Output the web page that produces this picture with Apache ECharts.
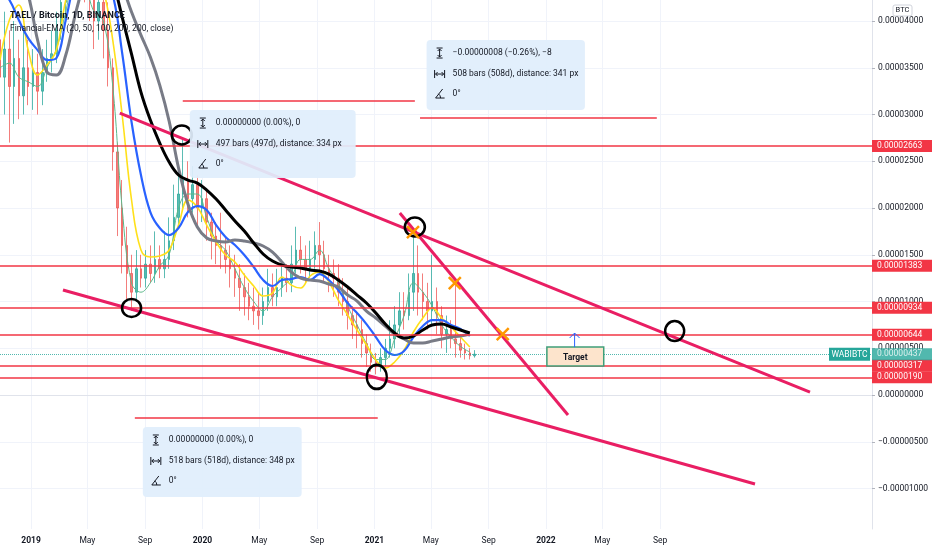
<!DOCTYPE html>
<html><head><meta charset="utf-8">
<script src="https://cdn.jsdelivr.net/npm/echarts@6/dist/echarts.min.js"></script>
<style>html,body{margin:0;padding:0;background:#fff}#c{width:932px;height:550px}</style>
</head><body><div id="c"></div>
<script>
// ---------- DATA (prices in satoshi, 1e-8 BTC) ----------
const candleStart = '2018-10-27';
const candleStepDays = 10;
const candleOpen = [3800,3400,3700,3300,3600,3200,3500,3300,3450,3250,
 3450,3600,3650,3900,4200,4500,4700,4600,4800,4500,
 4300,4000,4200,3900,3500,2600,2000,1600,1300,1100,
 1350,1250,1400,1300,1450,1350,1450,1650,1900,2150,
 2300,2100,2250,2000,2100,1850,1700,1600,1550,1450,
 1350,1250,1150,1050,950,900,850,1000,1150,1050,
 1150,1250,1200,1400,1550,1450,1350,1450,1600,1500,
 1350,1300,1250,1100,1000,850,750,700,550,450,
 350,300,400,500,600,750,900,850,1100,1300,
 1100,1000,900,1000,850,650,700,600,550,480,
 450,420];
const candleClose = [3400,3700,3300,3600,3200,3500,3300,3450,3250,3450,
 3600,3650,3900,4200,4500,4700,4600,4800,4500,4300,
 4000,4200,3900,3500,2600,2000,1600,1300,1100,1350,
 1250,1400,1300,1450,1350,1450,1650,1900,2150,2300,
 2100,2250,2000,2100,1850,1700,1600,1550,1450,1350,
 1250,1150,1050,950,900,850,1000,1150,1050,1150,
 1250,1200,1400,1550,1450,1350,1450,1600,1500,1350,
 1300,1250,1100,1000,850,750,700,550,450,350,
 300,400,500,600,750,900,850,1100,1300,1100,
 1000,900,1000,850,650,700,600,550,480,450,
 420,437];
const candleLow = [3100,3000,2700,2900,2950,3000,3100,3050,3000,3100,
 3350,3450,3550,3800,4000,4300,4400,4300,4200,4000,
 3700,3800,3600,3300,2400,1700,1300,1000,900,1000,
 1150,1150,1200,1200,1250,1250,1350,1550,1800,2000,
 1900,1950,1800,1850,1650,1450,1400,1350,1300,1150,
 1050,900,850,800,750,700,750,900,950,950,
 1050,1100,1100,1300,1300,1200,1250,1350,1300,1200,
 1100,1050,950,850,700,600,500,400,300,250,
 220,250,300,400,500,650,700,800,900,850,
 800,700,750,650,500,450,500,400,400,380,
 380,400];
const candleHigh = [4300,4100,3900,4000,3800,3900,3800,3700,3650,3700,
 3800,3900,4100,4400,4800,5000,5000,5100,5000,4700,
 4500,4500,4400,4200,3600,2700,2300,1800,1500,1550,
 1500,1550,1600,1750,1600,1750,1900,2250,2450,2750,
 2500,2450,2350,2300,2200,1950,1850,1950,1700,1600,
 1500,1400,1300,1200,1150,1100,1150,1350,1300,1350,
 1450,1400,1600,1800,1700,1600,1650,1750,1850,1650,
 1500,1450,1400,1250,1150,950,900,800,650,550,
 450,500,600,800,950,1100,1100,1300,1750,1600,
 1300,1200,1500,1150,950,850,800,1200,650,550,
 500,480];

const emaStart = '2018-10-27';
const emaStepDays = 20;
const ema20 = [3500,3550,3400,3350,3300,3500,3700,4100,4500,4400,
 4100,4000,3300,2000,1200,1100,1200,1380,1500,2000,
 2150,2150,1900,1650,1550,1350,1150,1000,900,1050,
 1150,1250,1450,1450,1550,1350,1200,950,750,550,
 380,380,600,850,1200,1100,950,750,620,520,460];
const ema50 = [3583,4010,4171,3690,3423,3530,3690,4225,4546,4650,
 4546,4332,3797,2995,2086,1551,1476,1487,1551,1818,
 2086,2011,1818,1636,1497,1422,1283,1166,1059,1091,
 1262,1176,1144,1273,1316,1209,1016,856,695,535,
 374,289,353,481,674,824,930,824,727,620,513];
const ema100 = [4332,4225,4010,3818,3690,3583,3604,4010,4440,4650,
 4650,4440,4278,3658,2920,2353,1957,1786,1711,1786,
 1957,2021,1979,1818,1690,1604,1497,1369,1230,1166,
 1230,1241,1262,1230,1294,1230,1123,984,877,759,
 620,481,428,471,620,738,802,802,749,706,631];
const ema200 = [null,null,null,null,null,null,null,null,null,null,
 5050,4810,4450,4043,3647,3240,2941,2695,2492,2353,
 2299,2267,2192,2096,1979,1861,1754,1626,1508,1433,
 1390,1369,1358,1337,1326,1294,1230,1155,1069,984,
 877,759,663,610,631,695,749,759,727,695,663];
const ema200b = [4800,4700,4500,4278,3797,3455,3423,3636,4064,4440,
 4760,4870,4650,4385,4096,3850,3615,3315,2930,2428,
 2043,1797,1679,1647,1636,1658,1647,1626,1594,1529,
 1422,1315,1251,1230,1219,1187,1155,1069,1005,898,
 824,738,652,599,556,556,578,599,620,631,652];

const levelValues = [2663, 1383, 934, 644, 317, 190];
const lastPrice = 437;
const lastSymbol = 'WABIBTC';

const xMin = '2018-10-27', xMax = '2023-11-26';
const xTickDates = ['2019-01-01','2019-05-01','2019-09-01','2020-01-01','2020-05-01','2020-09-01',
 '2021-01-01','2021-05-01','2021-09-01','2022-01-01','2022-05-01','2022-09-01'];
const xTickLabels = ['2019','May','Sep','2020','May','Sep','2021','May','Sep','2022','May','Sep'];
const yMin = -1433, yMax = 4225;
const yTicks = [-1000,-500,0,500,1000,1500,2000,2500,3000,3500,4000];

const trendLines = [
 [['2019-07-09',3016],['2023-07-17',32]],
 [['2019-03-10',1123],['2023-03-22',-952]],
 [['2021-02-24',1946],['2022-02-17',-214]]];
const measureLines = [
 [['2019-11-20',3144],['2021-03-28',3144]],
 [['2021-04-08',2963],['2022-08-25',2963]],
 [['2019-08-10',-246],['2021-01-08',-246]]];
const circlePoints = [['2019-11-18',2781],['2019-08-03',930],['2021-03-28',1797],['2021-01-06',193],['2022-10-02',684]];
const circleSizes = [[20,19],[19,18],[20,19],[20,24],[19,20]];
const crossPoints = [['2021-03-24',1743],['2021-06-21',1198],['2021-10-01',652]];

const infoBoxFrom = [['2019-12-05',3048],['2021-04-22',3797],['2019-08-27',-342]];
const infoBoxTo = [['2020-11-22',2321],['2022-03-25',3048],['2020-07-30',-1091]];
const infoBoxLines = [
 ['0.00000000 (0.00%), 0','497 bars (497d), distance: 334 px','0°'],
 ['\u22120.00000008 (\u22120.26%), \u22128','508 bars (508d), distance: 341 px','0°'],
 ['0.00000000 (0.00%), 0','518 bars (518d), distance: 348 px','0°']];
const targetFrom = ['2022-01-03',513], targetTo = ['2022-05-04',310];
const targetText = 'Target';
const arrowFrom = ['2022-03-03',513], arrowTo = ['2022-03-03',663];

const titleText = 'TAEL / Bitcoin, 1D, BINANCE';
const subTitleText = 'Financial-EMA (20, 50, 100, 200, 200, close)';

// ---------- HELPERS ----------
function t(s){ const p=s.split('-').map(Number); return Date.UTC(p[0],p[1]-1,p[2]); }
const DAY = 86400000;
function fmtBTC(v){ return (v<0?'\u2212':'') + (Math.abs(v)/1e8).toFixed(8); }
const FONT = 'Roboto, "Liberation Sans", sans-serif';

const candleData = candleOpen.map((o,i)=>[t(candleStart)+i*candleStepDays*DAY, o, candleClose[i], candleLow[i], candleHigh[i]]);
function emaSeries(arr){ return arr.map((v,i)=>[t(emaStart)+i*emaStepDays*DAY, v]); }
const xTickTs = xTickDates.map(t);
const xLabelMap = {}; xTickTs.forEach((v,i)=>xLabelMap[v]=xTickLabels[i]);

const chart = echarts.init(document.getElementById('c'), null, {renderer:'canvas'});

function lineSeries(name, arr, color, width, z){
  return {name, type:'line', data: emaSeries(arr), showSymbol:false, smooth:0.4, z,
    lineStyle:{color, width}, itemStyle:{color}, silent:true, connectNulls:false};
}

const levelLabel = (bg)=>({show:true, position:'end', distance:0, color:'#fff', backgroundColor:bg,
  fontSize:8.5, fontFamily:FONT, padding:[2,4,1,5], width:51, align:'left'});

const option = {
  animation:false,
  backgroundColor:'#ffffff',
  textStyle:{fontFamily:FONT},
  title:[
    {text:titleText, left:5, top:6, textStyle:{fontSize:9, fontWeight:'bold', color:'#131722', fontFamily:FONT}, z:50},
    {text:subTitleText, left:5, top:19, textStyle:{fontSize:8.5, fontWeight:'normal', color:'#131722', fontFamily:FONT}, z:50}
  ],
  grid:{left:0, right:60, top:0, bottom:21},
  xAxis:{type:'value', min:t(xMin), max:t(xMax), scale:true,
    axisLine:{show:true, lineStyle:{color:'#e0e3eb'}},
    axisTick:{show:false, customValues:xTickTs},
    axisLabel:{customValues:xTickTs, color:'#131722', fontSize:8.5, margin:7, fontFamily:FONT,
      formatter:(v)=>{ const s = xLabelMap[v] || ''; return /^\d{4}$/.test(s) ? '{y|'+s+'}' : s; },
      rich:{y:{fontWeight:'bold', fontSize:8.5, color:'#131722'}}},
    splitLine:{show:true, lineStyle:{color:'#f0f3fa', width:1}}},
  yAxis:{type:'value', position:'right', min:yMin, max:yMax,
    axisLine:{show:true, lineStyle:{color:'#e0e3eb'}},
    axisTick:{show:true, length:3, customValues:yTicks, lineStyle:{color:'#b2b5be'}},
    axisLabel:{customValues:yTicks, formatter:fmtBTC, color:'#131722', fontSize:8.5, margin:6, fontFamily:FONT},
    splitLine:{show:true, lineStyle:{color:'#f0f3fa', width:1}}},
  series:[
    {name:'candles', type:'candlestick', data:candleData, encode:{x:0, y:[1,2,3,4]}, barWidth:2, z:2,
     itemStyle:{color:'#26a69a', color0:'#ef5350', borderColor:'#26a69a', borderColor0:'#ef5350', opacity:0.75}},
    lineSeries('EMA20', ema20, '#5cb88a', 1, 3),
    lineSeries('EMA50', ema50, '#ffe01a', 1.6, 3),
    lineSeries('EMA100', ema100, '#2962ff', 2.2, 3),
    lineSeries('EMA200b', ema200b, '#787b86', 3, 3),
    lineSeries('EMA200', ema200, '#000000', 3, 4),
    {name:'levels', type:'line', data:[], z:6, silent:true,
     markLine:{silent:true, symbol:['none','none'], animation:false,
       data:[
         ...levelValues.map(v=>({yAxis:v, lineStyle:{color:'#f23645', width:1.5, type:'solid'},
             label:Object.assign(levelLabel('#f23645'), {formatter:fmtBTC(v)})})),
         {yAxis:lastPrice, lineStyle:{color:'#26a69a', width:1, type:'dotted', opacity:0.8},
             label:Object.assign(levelLabel('#26a69a'), {formatter:fmtBTC(lastPrice)})}
       ]}},
    {name:'drawings', type:'line', data:[], z:7, silent:true,
     markLine:{silent:true, symbol:['none','none'], animation:false, label:{show:false},
       data:[
         ...trendLines.map(l=>[{coord:[t(l[0][0]), l[0][1]], lineStyle:{color:'#e91e63', width:3, type:'solid'}},
                               {coord:[t(l[1][0]), l[1][1]]}]),
         ...measureLines.map(l=>[{coord:[t(l[0][0]), l[0][1]], lineStyle:{color:'#f23645', width:1.5, type:'solid'}},
                                 {coord:[t(l[1][0]), l[1][1]]}])
       ]},
     markPoint:{silent:true, animation:false, label:{show:false},
       data:[
         ...circlePoints.map((p,i)=>({coord:[t(p[0]), p[1]], symbol:'circle', symbolSize:circleSizes[i],
            itemStyle:{color:'rgba(0,0,0,0)', borderColor:'#000', borderWidth:2.5}})),
         ...crossPoints.map(p=>({coord:[t(p[0]), p[1]], symbol:'path://M0,0L10,10M10,0L0,10', symbolSize:12,
            itemStyle:{color:'rgba(0,0,0,0)', borderColor:'#ff9800', borderWidth:2.5}}))
       ]}}
  ]
};
chart.setOption(option);

// ---------- annotation boxes placed through the axes ----------
function P(p){ return chart.convertToPixel({xAxisIndex:0, yAxisIndex:0}, [t(p[0]), p[1]]); }
function txt(x,y,text,font,fill,align){
  return {type:'text', x, y, z:101, silent:true,
    style:{text, font, fill:fill||'#131722', align:align||'left', textAlign:align||'left', verticalAlign:'middle', textVerticalAlign:'middle'}};
}
function ln(points, stroke, w){ return {type:'polyline', z:101, silent:true, shape:{points}, style:{stroke, lineWidth:w||1, fill:null}}; }
const g = [];
infoBoxFrom.forEach((f,i)=>{
  const a = P(f), b = P(infoBoxTo[i]);
  const x=a[0], y=a[1], w=b[0]-a[0], h=b[1]-a[1];
  g.push({type:'rect', z:100, silent:true, shape:{x, y, width:w, height:h, r:4}, style:{fill:'rgba(224,238,252,0.93)'}});
  const rows = [13, 34, 54];
  infoBoxLines[i].forEach((s,j)=>g.push(txt(x+26, y+rows[j], s, '8.5px '+FONT)));
  const ix = x+13;
  let r = y+rows[0];
  g.push(ln([[ix-3,r-5],[ix+3,r-5]],'#131722'), ln([[ix-3,r+5],[ix+3,r+5]],'#131722'), ln([[ix,r-4],[ix,r+4]],'#131722'));
  g.push(ln([[ix-2,r-2],[ix,r-4],[ix+2,r-2]],'#131722'), ln([[ix-2,r+2],[ix,r+4],[ix+2,r+2]],'#131722'));
  r = y+rows[1];
  g.push(ln([[ix-5,r-4],[ix-5,r+4]],'#131722'), ln([[ix+5,r-4],[ix+5,r+4]],'#131722'), ln([[ix-4,r],[ix+4,r]],'#131722'));
  g.push(ln([[ix-2,r-2],[ix-4,r],[ix-2,r+2]],'#131722'), ln([[ix+2,r-2],[ix+4,r],[ix+2,r+2]],'#131722'));
  r = y+rows[2];
  g.push(ln([[ix+3,r-5],[ix-4,r+4],[ix+5,r+4]],'#131722'));
  g.push({type:'arc', z:101, silent:true, shape:{cx:ix-4, cy:r+4, r:5, startAngle:-Math.PI/3.2, endAngle:0}, style:{stroke:'#131722', lineWidth:1, fill:null}});
});
{
  const a = P(targetFrom), b = P(targetTo);
  g.push({type:'rect', z:100, silent:true, shape:{x:a[0], y:a[1], width:b[0]-a[0], height:b[1]-a[1]},
          style:{fill:'#fde4cc', stroke:'#3f9f78', lineWidth:1.5}});
  g.push(txt((a[0]+b[0])/2, (a[1]+b[1])/2+1, targetText, 'bold 8.5px '+FONT, '#131722', 'center'));
  const s = P(arrowFrom), e = P(arrowTo);
  g.push(ln([[s[0],s[1]],[e[0],e[1]]], '#2962ff', 1));
  g.push(ln([[e[0]-5,e[1]+5],[e[0],e[1]],[e[0]+5,e[1]+5]], '#2962ff', 1));
}
{
  const yp = P([xMax, lastPrice]);
  const right = yp[0] - 2;
  g.push({type:'rect', z:100, silent:true, shape:{x:right-41, y:yp[1]-6.5, width:41, height:13}, style:{fill:'#26a69a'}});
  g.push(txt(right-20.5, yp[1]+0.5, lastSymbol, '8.5px '+FONT, '#ffffff', 'center'));
}
{
  const top = P([xMax, yMax]);
  g.push({type:'rect', z:100, silent:true, shape:{x:top[0]+21, y:5, width:19, height:11, r:2}, style:{fill:'#ffffff', stroke:'#d1d4dc', lineWidth:1}});
  g.push(txt(top[0]+30.5, 10.5, 'BTC', '7.5px '+FONT, '#131722', 'center'));
}
chart.setOption({graphic:g});
</script></body></html>
